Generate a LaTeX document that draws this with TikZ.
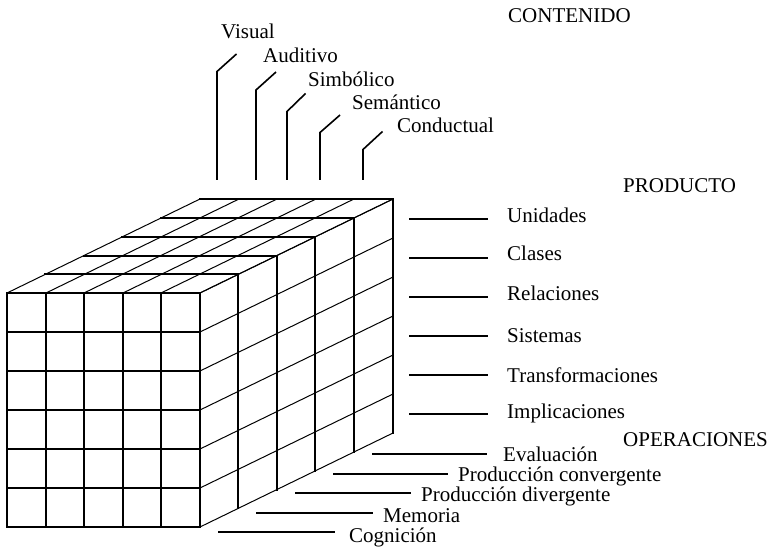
\documentclass[tikz,border=0pt]{standalone}
\usepackage{fontspec}
\setmainfont{Liberation Serif}
\begin{document}
\begin{tikzpicture}[x=1bp,y=-1bp,
  lbl/.style={anchor=base west,inner sep=0pt,font=\fontsize{21bp}{25bp}\selectfont},
  grid/.style={line width=1.5bp,line cap=rect},
  diag/.style={line width=1bp},
  lead/.style={line width=1.6bp}]
\useasboundingbox (0,0) rectangle (773,549);
% ---- cube ----
% front face
\foreach \x in {7,46,84,123,161,200} \draw[grid] (\x,293) -- (\x,527);
\foreach \y in {293,332,371,410,449,488,527} \draw[grid] (7,\y) -- (200,\y);
% top face (depth layers)
\foreach \ox/\oy in {38/19,77/37,115/56,154/75,193/94}
  \draw[grid] ({7+\ox},{293-\oy}) -- ({200+\ox},{293-\oy});
\foreach \x in {7,46,84,123,161,200} \draw[diag] (\x,293) -- ({\x+193},199);
% right face
\foreach \ox/\oy in {38/19,77/37,115/56,154/75,193/94}
  \draw[grid] ({200+\ox},{293-\oy}) -- ({200+\ox},{527-\oy});
\foreach \y in {293,332,371,410,449,488,527} \draw[diag] (200,\y) -- (393,{\y-94});
% ---- titles ----
\node[lbl] (cont) at (508,23) {CONTENIDO};
\node[lbl] (prod) at (623,193) {PRODUCTO};
\node[lbl] (oper) at (623,446) {OPERACIONES};
% ---- contenido ----
\node[lbl] (c1) at (221,39) {Visual};
\node[lbl] (c2) at (263,63) {Auditivo};
\node[lbl] (c3) at (308,87) {Simbólico};
\node[lbl] (c4) at (352,110) {Semántico};
\node[lbl] (c5) at (397,133) {Conductual};
\draw[lead] (217,180) -- (217,71.5) -- (236.5,54);
\draw[lead] (256,180) -- (256,90) -- (276,72);
\draw[lead] (287,180) -- (287,111.5) -- (305.5,93.5);
\draw[lead] (320,180) -- (320,132.5) -- (340,115);
\draw[lead] (363,180) -- (363,149.5) -- (382.5,131.5);
% ---- producto ----
\node[lbl] (p1) at (507,223) {Unidades};
\node[lbl] (p2) at (507,260.5) {Clases};
\node[lbl] (p3) at (507,300.5) {Relaciones};
\node[lbl] (p4) at (507,342.5) {Sistemas};
\node[lbl] (p5) at (507,382) {Transformaciones};
\node[lbl] (p6) at (507,418) {Implicaciones};
\foreach \y in {219,258,297,336,375,414} \draw[lead] (409,\y) -- (488,\y);
% ---- operaciones ----
\node[lbl] (o1) at (503,461) {Evaluación};
\node[lbl] (o2) at (458,481) {Producción convergente};
\node[lbl] (o3) at (421,501) {Producción divergente};
\node[lbl] (o4) at (383,522) {Memoria};
\node[lbl] (o5) at (349,542) {Cognición};
\draw[lead] (372,454) -- (487,454);
\draw[lead] (333,474) -- (448,474);
\draw[lead] (295,493) -- (411,493);
\draw[lead] (256,513) -- (373,513);
\draw[lead] (218,532) -- (335,532);
\end{tikzpicture}
\end{document}
